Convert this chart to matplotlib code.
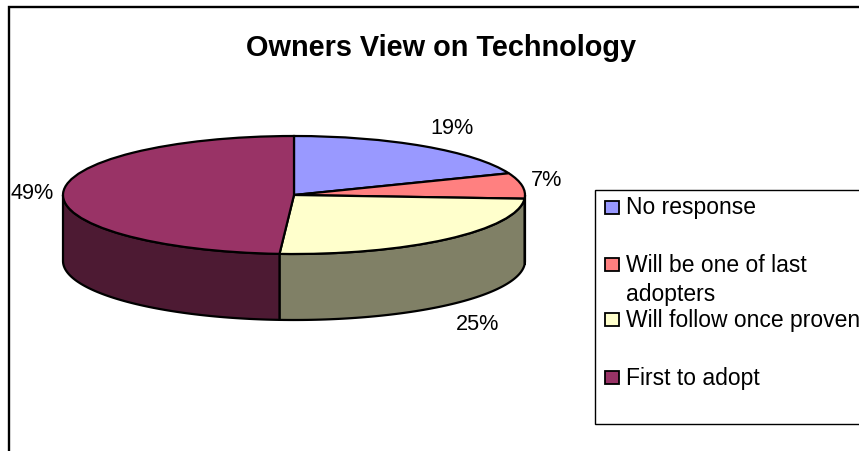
import numpy as np
import matplotlib
matplotlib.use("Agg")
import matplotlib.pyplot as plt
from matplotlib.patches import Rectangle

plt.rcParams['font.family'] = ['Liberation Sans', 'DejaVu Sans']

# data
labels = ["No response", "Will be one of last\nadopters", "Will follow once proven", "First to adopt"]
values = [19, 7, 25, 49]
pct_labels = ["19%", "7%", "25%", "49%"]
top_colors = ["#9999FF", "#FF8080", "#FFFFCC", "#993366"]
side_colors = ["#4D4D80", "#804040", "#808066", "#4D1A33"]

# layout, in image pixels
W, H = 859, 452
CX, CY = 294, 196      # centre of pie top
RX, RY = 231, 59       # ellipse radii
DEPTH = 66
pct_pos = [(452, 128.5), (547, 180.5), (478, 324.5), (32, 194)]
legend_y = [208, 265, 320, 378]

fig = plt.figure(figsize=(W / 100, H / 100), dpi=100)
ax = fig.add_axes([0, 0, 1, 1])

# pie in unit coords, stretched to an ellipse by the axes limits
ax.pie(values, colors=top_colors, startangle=90, counterclock=False, radius=1,
       wedgeprops=dict(edgecolor="black", linewidth=1.6, zorder=3))
ax.set_aspect("auto")
ax.set_xlim(-CX / RX, (W - CX) / RX)
ax.set_ylim((CY - H) / RY, CY / RY)
ax.axis("off")

depth = DEPTH / RY

# side wall, only the front half of the ellipse shows
edges = 90 - np.cumsum([0] + values) * 3.6
for i in range(len(values)):
    a0, a1 = min(edges[i], 0), max(edges[i + 1], -180)
    if a0 <= a1:
        continue
    t = np.radians(np.linspace(a0, a1, 80))
    x = np.cos(t)
    y = np.sin(t)
    ax.fill(np.r_[x, x[::-1]], np.r_[y, y[::-1] - depth],
            facecolor=side_colors[i], edgecolor="black", linewidth=1.6, zorder=2)


def px(x, y):
    # image pixels to axes data
    return (x - CX) / RX, (CY - y) / RY


for txt, (x, y) in zip(pct_labels, pct_pos):
    ax.text(*px(x, y), txt, fontsize=15.6, ha="center", va="center", color="black", zorder=5)

ax.text(*px(441, 48), "Owners View on Technology", fontsize=20.8, fontweight="bold",
        ha="center", va="center", color="black")

# chart frame, right and bottom run off the image
x0, y0 = px(9, 8)
x1, y1 = px(W + 5, H + 5)
ax.add_patch(Rectangle((x0, y1), x1 - x0, y0 - y1, fill=False, edgecolor="black", linewidth=1.7, zorder=1))

# legend box
x0, y0 = px(595, 191)
x1, y1 = px(W + 5, 425)
ax.add_patch(Rectangle((x0, y1), x1 - x0, y0 - y1, facecolor="white", edgecolor="black", linewidth=1, zorder=4))

for lab, col, y in zip(labels, top_colors, legend_y):
    xa, ya = px(605, y + 6.5)
    xb, yb = px(619, y - 6.5)
    ax.add_patch(Rectangle((xa, ya), xb - xa, yb - ya, facecolor=col, edgecolor="black", linewidth=1.3, zorder=5))
    ax.text(*px(626, y - 11.5), lab, fontsize=16.45, ha="left", va="top", linespacing=1.37,
            color="black", zorder=5)

fig.savefig("out.png", dpi=100)
